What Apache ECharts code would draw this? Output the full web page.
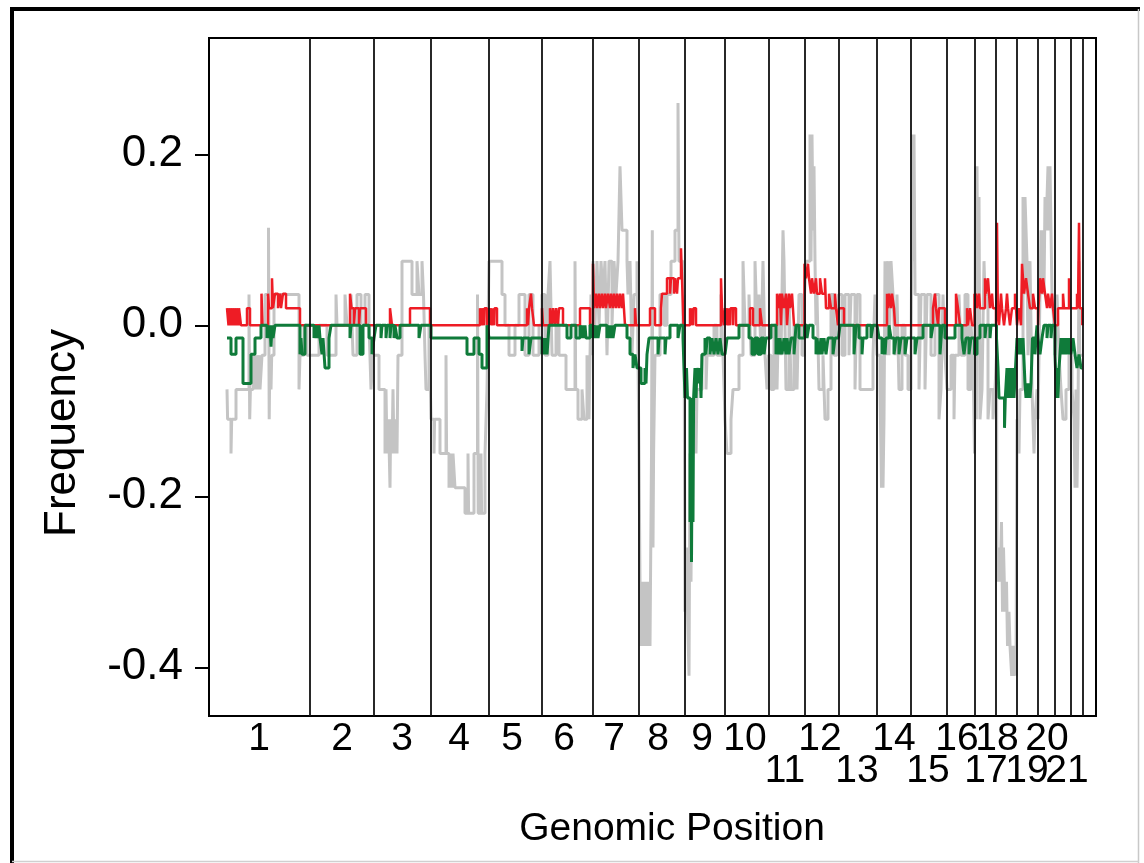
<!DOCTYPE html>
<html>
<head>
<meta charset="utf-8">
<script src="https://cdn.jsdelivr.net/npm/echarts@6/dist/echarts.min.js"></script>
<style>
html,body{margin:0;padding:0;background:#fff;}
#chart{width:1144px;height:863px;}
</style>
</head>
<body>
<div id="chart"></div>
<script>
// Genomic position units (chromosomes laid end to end, as drawn)
const chromNames = ['1','2','3','4','5','6','7','8','9','10','11','12','13','14','15','16','17','18','19','20','21','22'];
const chromEnds = [101,165,222,280,333,384,430,476,516,559.3,595.3,629.3,667.7,701.7,738,765.3,787,807.7,828.8,846,861.7,873.3];
const labelAt = [50,133,193,250,303,355,405,449,493,536,576,611,648,685,719,748,777,788,818,838,858,880];
const lowerRow = ['11','13','15','17','19','21'];
const yTicks = [-0.4,-0.2,0,0.2];

// Frequency of all aberrations (gray)
const grayFreq = [
[18,-0.075],[18.6,-0.11],[22,-0.15],[22.7,-0.11],[27,-0.075],[40,0.036],[40.7,-0.11],[41.4,-0.075],[44,-0.035],[45,-0.075],[47,-0.035],[48,-0.075],[50,-0.035],[51,-0.075],[53,-0.035],[56,0.036],[59.5,0.114],[60.2,-0.11],[60.9,-0.035],[62,-0.075],[62.7,-0.035],[65,0.036],[90,-0.075],[91,-0.035],[95,0],[98,-0.035],
[101,-0.035],[110,0],[118,-0.035],[127,0.036],[128,0],[136,0.036],[138,0],[142,0.036],[144,-0.035],[148,0.036],[152,0],[156,0.036],[160,0],[162,-0.075],[164,-0.035],
[165,-0.035],[170,-0.075],[176,-0.15],[177,-0.075],[178,-0.15],[179.5,-0.11],[181,-0.19],[181.7,-0.11],[183,-0.15],[184,-0.075],[185,-0.15],[186.5,-0.11],[188,-0.15],[189,-0.035],[193,0.075],[203,0.036],[208,0.075],[210,0.036],[213,0.075],[214.5,0.036],[216,-0.035],[217,-0.075],[220,0],
[222,-0.11],[225,-0.15],[225.6,-0.11],[231,-0.15],[237,-0.035],[237.6,-0.15],[240,-0.19],[241,-0.15],[243,-0.19],[244,-0.15],[246,-0.19],[256,-0.22],[259,-0.15],[259.6,-0.22],[265,-0.15],[268.5,0.036],[269.2,-0.22],[272,-0.15],[272.6,-0.22],[276,-0.15],[278,-0.075],
[280,0.075],[293,0.036],[296,0],[300,-0.035],[306,0],[310,0.036],[316,-0.035],[320,0.036],[324,-0.035],[330,0],
[333,0.036],[336,-0.035],[339,0.036],[341,0.075],[343,-0.035],[347,0],[350,-0.035],[357,-0.075],[366,0.075],[366.7,-0.075],[369,-0.11],[373,-0.075],[375,-0.11],[378,-0.035],[380,-0.11],[382,0.036],[383,-0.035],
[384,0.075],[386,0],[388,0.075],[390,0],[392,0.075],[394,0.036],[396,0.075],[398,-0.035],[400,0.075],[403,0],[405,0.075],[407,0.036],[409,0.075],[411,0.186],[413,0.111],[418,0.075],[419,0.036],[421,0.075],[423,-0.035],[425,0.036],[428,0.075],
[430,-0.15],[431,-0.3],[432,-0.375],[433,-0.3],[434,-0.375],[435,-0.3],[436,-0.375],[437.5,-0.3],[438.5,-0.375],[440,-0.3],[441,-0.375],[442.5,-0.15],[443.3,0.111],[444,-0.26],[444.6,-0.15],[446,-0.035],[451,0.036],[455,0],[458,0.036],[462,0.075],[466,0.111],[469,0.26],[470,0.075],[474,0],[475,0.036],
[476,-0.335],[477.5,-0.26],[478.5,-0.335],[480,-0.41],[481,-0.15],[482,-0.3],[483,-0.11],[485,-0.15],[486,-0.075],[487,-0.15],[488,-0.075],[493,-0.035],[497,-0.075],[498,-0.035],[505,0],[508,-0.035],[512,0.036],[514,-0.035],
[516,-0.11],[518,-0.15],[522,-0.11],[524,-0.075],[530,-0.035],[534,0.075],[536,0],[540,0.036],[542,-0.035],[546,0.075],[548,0],[550,0.036],[552,-0.035],[554,0.075],[556,-0.035],[558,-0.075],
[559.5,-0.035],[562,-0.075],[565,0],[568,-0.075],[570,0.036],[572,-0.035],[574,0.111],[575,0.075],[577,-0.075],[580,0.036],[582,-0.075],[585,0],[588,-0.075],[590,0.036],[593,-0.035],
[595.5,0.036],[597,0.075],[601,0.223],[602,0.075],[603,0.223],[604,0.111],[605,0.186],[606,0.075],[607,0],[608,0.036],[610,-0.075],[614,-0.035],[616,-0.11],[619,-0.075],[622,0.036],[625,-0.035],[628,0],
[629.5,0.036],[633,-0.035],[636,0.036],[640,-0.035],[642,0.036],[646,-0.075],[648,0.036],[651,-0.075],[664,-0.035],[666,0.036],
[668,-0.035],[671,-0.075],[672.5,-0.19],[673.3,-0.035],[674,-0.19],[675,-0.11],[676,0.075],[677,-0.035],[679,0.075],[680,-0.035],[682,0.075],[684,0.036],[686,-0.035],[688,0.036],[690,-0.075],[693,0],[696,-0.035],[699,-0.075],
[702,-0.035],[703.5,0.223],[704.3,0.075],[705,0.223],[706,0.036],[710,-0.075],[712,0.036],[716,-0.075],[718,0.036],[722,-0.035],[726,0.036],[730,-0.11],[732,-0.075],[734,0.036],[736,-0.035],
[738,-0.075],[742,-0.035],[745,-0.11],[746,-0.035],[750,0.036],[752,-0.035],[756,0.036],[759,-0.075],[762,0],[764,-0.035],
[765.5,-0.15],[766.5,0.186],[767.3,-0.11],[768,0.186],[769,-0.035],[770,0.15],[771,-0.11],[773,-0.075],[775,0.075],[776,0.036],[779,-0.11],[781,-0.075],[784,-0.11],[786,-0.075],
[787.5,-0.035],[788,-0.26],[789,-0.3],[790,-0.26],[791,-0.3],[792.5,-0.23],[793.5,-0.335],[794.5,-0.26],[796,-0.335],[797.5,-0.3],[798.5,-0.375],[800,-0.335],[801,-0.375],[802.7,-0.41],[803.5,-0.375],[804.5,-0.41],[806,-0.375],[807,-0.41],
[808,-0.11],[810,-0.15],[811,-0.075],[814,0.15],[815,0.036],[816,0.15],[818,0.075],[819,-0.035],[821,0.075],[823,-0.075],[825,-0.15],[826,-0.11],[828,-0.075],
[829,-0.11],[830,-0.035],[832,0.111],[833,0.036],[834,0.111],[835,0.036],[836,0.15],[837,0.111],[839,0.186],[840,0.111],[841,0.186],[842,0.111],[843,0.036],[845,0],
[846,-0.035],[848,0.036],[850,-0.035],[852,-0.075],[854,-0.11],[857,-0.075],[860,-0.035],
[862,-0.035],[863,-0.075],[865,-0.11],[866,-0.19],[867,-0.075],[868,-0.19],[869,-0.11],[870,0.075],[870.7,-0.035],[873.3,-0.035]
];

// Gain frequency (red)
const gainFreq = [
[18,0.02],[19.5,0],[20,0.02],[21.5,0],[22,0.02],[23.5,0],[24,0.02],[25.5,0],[26,0.02],[27.5,0],[28,0.02],[29.5,0],[30,0.02],[32,0],[38,0.02],[41,0],[52.5,0.037],[53.5,0],[59,0.037],[60,0.02],[63,0.055],[64,0.02],[66,0.037],[69,0.02],[71,0.037],[72,0.02],[74,0.037],[77,0.02],[91,0],
[141,0.037],[142.5,0.02],[145,0],[146,0.02],[150,0],[151,0.02],[157,0],
[181,0.02],[183,0],[201,0.02],[221,0],
[271,0.02],[272.5,0],[273,0.02],[275,0],[275.5,0.02],[278,0],
[280,0.02],[281,0],[281.5,0.02],[283,0],[283.5,0.02],[285,0],[285.5,0.02],[288,0],[318,0.02],[319,0],[320,0.02],[322,0.037],[323,0.02],[325,0],
[333,0.02],[334,0],[341,0.02],[343,0],[344,0.02],[346,0],[347,0.02],[349,0],[350,0.02],[354,0],[371,0.02],[381,0],
[384,0.072],[385,0.02],[387,0.037],[388,0.02],[390,0.037],[391,0.02],[393,0.037],[394,0.02],[396,0.037],[397,0.02],[399,0.037],[401,0.02],[402,0.037],[404,0.02],[405,0.037],[407,0.02],[408,0.037],[410,0.02],[411,0.037],[413,0.02],[414,0.037],[416,0],[426,0.02],[427,0],
[441,0.02],[446,0],[452,0.02],[453,0.037],[458,0.055],[461,0.037],[462,0.055],[465,0.037],[466,0.055],[468,0.037],[469,0.055],[472,0.09],[473,0.055],[474.5,0],
[481,0.02],[482,0],[482.5,0.02],[484,0],[484.5,0.02],[487,0],[512,0.055],[513,0.02],[515,0],
[516,0.02],[517,0],[517.5,0.02],[519,0],[519.5,0.02],[521,0],[521.5,0.02],[524,0],[524.5,0.02],[527,0],[541,0.02],[544,0],[551,0.02],[553,0],
[568,0.037],[569,0.02],[571,0.037],[572,0],[573,0.037],[575,0.02],[577,0.037],[578,0],[580,0.037],[581,0.02],[583,0.037],[585,0],
[595.5,0.072],[597,0.055],[599,0.072],[600,0.055],[602,0.037],[603,0.055],[605,0.037],[607,0.055],[608,0.037],[611,0.055],[613,0.037],[616,0.055],[617,0.02],[620,0.037],[622,0.02],[626,0.037],[627,0.02],[629,0],
[630,0.02],[635,0],
[678,0.037],[679,0.02],[680,0.037],[682,0.02],[683,0.037],[685,0.02],[686,0],
[724,0.02],[726,0.037],[727,0.02],[729,0],[730,0.02],[736,0],
[747,0.037],[749,0.02],[751,0],[758,0.02],[759,0],[761,0.02],[763,0],
[765.5,0.037],[766,0.02],[767,0.037],[768,0.02],[770,0.037],[771,0.02],[776,0.055],[777,0.037],[779,0.055],[781,0.02],[783,0.037],[784,0.02],[787,0],
[787.5,0.02],[788,0.12],[788.8,0.02],[790,0],[792,0.037],[793,0.02],[795,0],[797,0.02],[798,0.037],[799,0.02],[801,0],[803,0.02],[806,0.037],[807,0.02],[808,0],
[810,0.02],[812,0],[813,0.072],[815,0.037],[817,0.055],[819,0.037],[821,0.02],[824,0.037],[826,0.02],[829,0],
[829.5,0.02],[831,0.055],[833,0.037],[834,0.055],[836,0.037],[838,0.02],[839,0.037],[841,0.02],[843,0.037],[844,0.02],[846,0],
[849,0.02],[854,0.037],[855,0.02],[860,0.055],[861,0.02],
[862,0.02],[868,0.037],[869,0.02],[870,0.12],[870.8,0.02],[873.3,0]
];

// Loss frequency (green)
const lossFreq = [
[18,-0.015],[22,-0.034],[27,-0.015],[34,-0.068],[42,-0.034],[46,-0.015],[52,0],[58,-0.015],[59,0],[60,-0.015],[61,0],[62,-0.025],[63,0],[64,-0.015],[66,0],[91,-0.034],[92,-0.015],[93,-0.034],[96,0],
[105,-0.015],[106,0],[107,-0.015],[108,0],[109,-0.015],[110,0],[111,-0.015],[113,-0.034],[114,-0.015],[116,-0.05],[120,-0.015],[122,0],[141,-0.015],[142,0],[151,-0.034],[154,0],[160,-0.015],[163,-0.034],
[165,-0.015],[167,0],[172,-0.015],[173,0],[177,-0.015],[178,0],[181,-0.015],[182,0],[185,-0.015],[186,0],[188,-0.015],[191,0],[210,-0.015],[212,0],
[222,-0.015],[258,-0.034],[265,-0.015],[270,-0.034],[273,-0.05],[278,0],
[280,-0.015],[313,-0.03],[314,-0.015],[320,-0.034],[322,-0.015],
[333,-0.034],[334,-0.015],[335,-0.034],[337,-0.015],[338,-0.034],[340,0],[358,-0.015],[362,0],[367,-0.015],[371,0],[373,-0.015],[374,0],[375,-0.015],[376,0],[377,-0.015],[381,0],
[384,-0.015],[385,0],[387,-0.015],[388,0],[389,-0.015],[391,0],[398,-0.015],[399,0],[400,-0.015],[401,0],[402,-0.015],[403,0],[404,-0.015],[406,0],[418,-0.015],[421,-0.034],[424,-0.05],[426,-0.034],[428,-0.05],
[430,-0.05],[432,-0.068],[436,-0.05],[437,-0.068],[438,-0.034],[440,-0.015],[449,-0.034],[450,-0.015],[456,-0.034],[457,-0.015],[461,0],[469,-0.015],[471,0],[474,-0.015],
[476,-0.085],[477.5,-0.05],[478.5,-0.085],[481,-0.23],[481.8,-0.085],[482.5,-0.277],[483.2,-0.13],[484,-0.23],[484.6,-0.085],[486,-0.05],[487,-0.085],[488,-0.05],[490,-0.068],[491,-0.05],[492,-0.085],[493,-0.034],[496,-0.015],[497,-0.034],[498,-0.015],[501,-0.034],[503,-0.015],[505,-0.034],[507,-0.015],[509,-0.034],[511,-0.015],[513,-0.034],
[516,-0.034],[518,-0.015],[530,0],[540,-0.015],[543,-0.034],[546,-0.015],[549,-0.034],[552,-0.015],[555,-0.034],[557,-0.015],
[559.5,-0.015],[562,0],[567,-0.034],[568,-0.015],[570,-0.034],[571,-0.015],[573,-0.034],[575,-0.015],[577,-0.034],[578,-0.015],[580,-0.034],[582,-0.015],[585,-0.034],[587,0],[590,-0.015],
[595.5,0],[598,-0.015],[600,0],[604,-0.015],[607,-0.034],[608,-0.015],[610,-0.034],[612,-0.015],[613,-0.034],[615,-0.015],[617,-0.034],[619,-0.015],[624,-0.034],[626,-0.015],
[629.5,-0.015],[631,0],[645,-0.034],[647,0],[650,-0.015],[653,-0.034],[654,-0.015],[658,0],[662,-0.015],[664,0],
[668,0],[670,-0.015],[673,-0.034],[674,-0.015],[676,-0.034],[677,-0.015],[680,0],[682,-0.015],[685,-0.034],[687,-0.015],[690,-0.034],[692,-0.015],[696,-0.034],[698,-0.015],
[702,-0.015],[706,-0.034],[708,-0.015],[714,0],[722,-0.015],[724,0],[731,-0.034],[733,0],[736,-0.015],
[738,-0.015],[746,0],[753,-0.015],[755,-0.034],[757,-0.015],[760,-0.034],[762,-0.015],
[765.5,-0.034],[768,-0.015],[771,0],[776,-0.015],[777,0],[781,-0.015],[782,0],
[787.5,-0.015],[789,-0.05],[790,-0.085],[795.5,-0.12],[796.3,-0.085],[798,-0.05],[799,-0.085],[800,-0.05],[801,-0.085],[802,-0.05],[803,-0.085],[804,-0.05],[805,-0.085],[806.5,-0.05],
[808,-0.015],[810,-0.034],[811,-0.015],[813,-0.034],[814,-0.015],[816,-0.068],[817,-0.085],[818,-0.068],[819,-0.085],[820,-0.068],[821,-0.085],[822,-0.068],[823.5,-0.015],[826,-0.034],[827,-0.015],[828,0],
[829,-0.015],[831,-0.034],[833,-0.015],[835,0],[838,-0.015],[839,0],[842,-0.015],[843,0],
[846,-0.034],[847.5,-0.085],[848.3,-0.05],[849,-0.085],[850,-0.05],[851,-0.034],[852,-0.015],[853,-0.034],[854,-0.015],[856,-0.034],[857,-0.015],[859,-0.034],[860,-0.015],
[861.7,-0.015],[862,-0.034],[864,-0.015],[866,-0.034],[868,-0.05],[870,-0.034],[872,-0.05],[873.3,-0.05]
];

const FONT = '"Liberation Sans", Arial, Helvetica, sans-serif';
const chart = echarts.init(document.getElementById('chart'), null, {renderer: 'canvas'});

function labelFor(v) {
  let best = 0, bd = Infinity;
  labelAt.forEach((p, i) => { const d = Math.abs(p - v); if (d < bd) { bd = d; best = i; } });
  const name = chromNames[best];
  return lowerRow.indexOf(name) >= 0 ? '\n' + name : name;
}

chart.setOption({
  backgroundColor: '#ffffff',
  animation: false,
  grid: {left: 209, top: 38, right: 48, bottom: 147, show: true, borderColor: '#000', borderWidth: 2, backgroundColor: 'transparent'},
  xAxis: {
    type: 'value', min: 0, max: 887,
    axisLine: {show: true, onZero: false, lineStyle: {color: '#000', width: 2}},
    axisTick: {show: false},
    splitLine: {show: false},
    axisLabel: {
      customValues: labelAt,
      formatter: labelFor,
      color: '#000', fontFamily: FONT, fontSize: 39, lineHeight: 32, margin: 7
    }
  },
  yAxis: {
    type: 'value', min: -0.457, max: 0.336,
    axisLine: {show: true, onZero: false, lineStyle: {color: '#000', width: 2}},
    axisTick: {show: true, customValues: yTicks, inside: false, length: 14, lineStyle: {color: '#000', width: 2}},
    splitLine: {show: false},
    axisLabel: {
      customValues: yTicks,
      formatter: v => v.toFixed(1),
      color: '#000', fontFamily: FONT, fontSize: 44, margin: 26
    }
  },
  graphic: [
    {type: 'rect', shape: {x: 10, y: 7, width: 4, height: 856}, style: {fill: '#000'}, silent: true},
    {type: 'rect', shape: {x: 10, y: 7, width: 1130, height: 4}, style: {fill: '#000'}, silent: true},
    {type: 'line', shape: {x1: 1138.5, y1: 9, x2: 1138.5, y2: 863}, style: {stroke: '#c8c8c8', lineWidth: 1.5}, silent: true},
    {type: 'line', shape: {x1: 12, y1: 861.5, x2: 1139, y2: 861.5}, style: {stroke: '#d0d0d0', lineWidth: 1.5}, silent: true},
    {type: 'text', x: 63, y: 433, rotation: Math.PI / 2,
      style: {text: 'Frequency', fill: '#000', font: '44px ' + FONT, textAlign: 'center', textVerticalAlign: 'middle'}},
    {type: 'text', x: 672, y: 829,
      style: {text: 'Genomic Position', fill: '#000', font: '39px ' + FONT, textAlign: 'center', textVerticalAlign: 'middle'}}
  ],
  series: [
    {
      name: 'All', type: 'line', step: 'end', data: grayFreq, showSymbol: false, symbol: 'none',
      lineStyle: {color: '#c4c4c4', width: 3}, z: 2,
      markLine: {
        silent: true, symbol: ['none', 'none'], label: {show: false},
        lineStyle: {color: '#111', width: 1.8, type: 'solid'},
        data: chromEnds.map(x => ({xAxis: x}))
      }
    },
    {
      name: 'Gain', type: 'line', step: 'end', data: gainFreq, showSymbol: false, symbol: 'none',
      lineStyle: {color: '#ee1c25', width: 2.5}, z: 3
    },
    {
      name: 'Loss', type: 'line', step: 'end', data: lossFreq, showSymbol: false, symbol: 'none',
      lineStyle: {color: '#0f7b3a', width: 3}, z: 4
    }
  ]
});
</script>
</body>
</html>
